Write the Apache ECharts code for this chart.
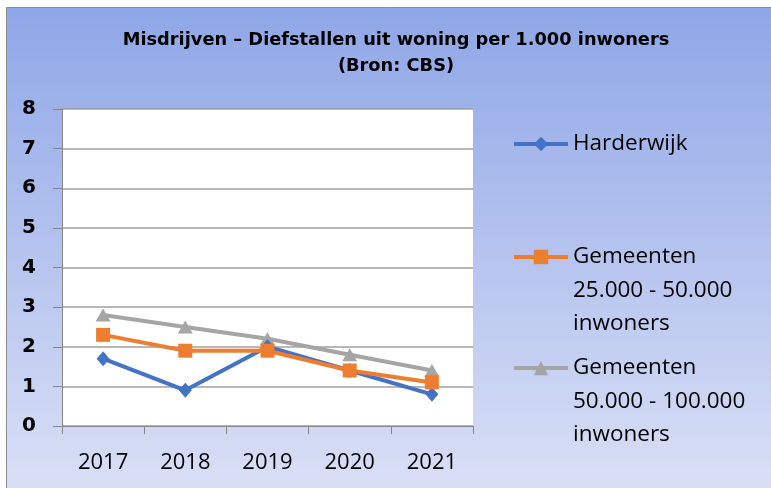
<!DOCTYPE html>
<html>
<head>
<meta charset="utf-8">
<script src="https://cdn.jsdelivr.net/npm/echarts@6/dist/echarts.min.js"></script>
<style>
html,body{margin:0;padding:0;background:#fff;}
#main{width:771px;height:488px;}
</style>
</head>
<body>
<div id="main"></div>
<script>
const titleText = 'Misdrijven – Diefstallen uit woning per 1.000 inwoners\n(Bron: CBS)';
const years = ['2017', '2018', '2019', '2020', '2021'];
const harderwijk = [1.7, 0.9, 2.0, 1.4, 0.8];
const gem25_50 = [2.3, 1.9, 1.9, 1.4, 1.1];
const gem50_100 = [2.8, 2.5, 2.2, 1.8, 1.4];
const seriesNames = ['Harderwijk', 'Gemeenten\n25.000 - 50.000\ninwoners', 'Gemeenten\n50.000 - 100.000\ninwoners'];
const yMin = 0, yMax = 8, yStep = 1;

const chart = echarts.init(document.getElementById('main'), null, {renderer: 'canvas'});
const LH = 33.5;
// leading blank lines so the icon sits on the first text line
const mkLegend = (name, lines, iconCenterY) => {
  const pre = '\n'.repeat(lines - 1);
  const total = lines + (lines - 1);
  return {
    data: [name], left: 512, top: iconCenterY - total * LH / 2 + 2,
    orient: 'vertical', padding: 0, itemWidth: 54, itemHeight: 18, itemGap: 0,
    formatter: (n) => pre + n,
    lineStyle: {width: 4},
    textStyle: {fontFamily: 'Open Sans', fontSize: 22.5, color: '#000', lineHeight: LH},
    selectedMode: false
  };
};
chart.setOption({
  animation: false,
  graphic: [{
    type: 'rect', z: -10, silent: true,
    shape: {x: 6.5, y: 7.5, width: 780, height: 500},
    style: {
      fill: new echarts.graphic.LinearGradient(0, 0, 0, 1, [
        {offset: 0, color: '#8FA6E7'},
        {offset: 1, color: '#DCE2F6'}
      ]),
      stroke: '#8c8c8c', lineWidth: 1
    }
  }],
  title: {
    text: titleText, left: 391, textAlign: 'center', top: 22,
    textStyle: {fontFamily: 'DejaVu Sans', fontWeight: 'bold', fontSize: 17.8, color: '#000', lineHeight: 26}
  },
  legend: [
    mkLegend(seriesNames[0], 1, 142),
    mkLegend(seriesNames[1], 3, 255),
    mkLegend(seriesNames[2], 3, 366)
  ],
  grid: {left: 62, right: 298, top: 109, bottom: 62, show: true, backgroundColor: '#fff', borderWidth: 0, containLabel: false},
  xAxis: {
    type: 'category', data: years, boundaryGap: true,
    axisLine: {lineStyle: {color: '#868686', width: 1}},
    axisTick: {show: true, length: 8, alignWithLabel: false, lineStyle: {color: '#868686'}},
    axisLabel: {fontFamily: 'Open Sans', fontSize: 22, color: '#000', margin: 26}
  },
  yAxis: {
    type: 'value', min: yMin, max: yMax, interval: yStep,
    axisLine: {show: true, lineStyle: {color: '#868686', width: 1}},
    axisTick: {show: true, length: 9, lineStyle: {color: '#868686'}},
    axisLabel: {fontFamily: 'DejaVu Sans', fontWeight: 'bold', fontSize: 20, color: '#000', margin: 26},
    splitLine: {show: true, lineStyle: {color: '#a0a0a0', width: 1.5}}
  },
  series: [
    {name: seriesNames[0], type: 'line', data: harderwijk, color: '#4472C4',
     symbol: 'diamond', symbolSize: [13, 15], lineStyle: {width: 4}, itemStyle: {color: '#4472C4'}, z: 3},
    {name: seriesNames[1], type: 'line', data: gem25_50, color: '#ED7D31',
     symbol: 'rect', symbolSize: 14, lineStyle: {width: 4}, itemStyle: {color: '#ED7D31'}, z: 4},
    {name: seriesNames[2], type: 'line', data: gem50_100, color: '#A5A5A5',
     symbol: 'triangle', symbolSize: [15, 13], lineStyle: {width: 4}, itemStyle: {color: '#A5A5A5'}, z: 2}
  ]
});
</script>
</body>
</html>
